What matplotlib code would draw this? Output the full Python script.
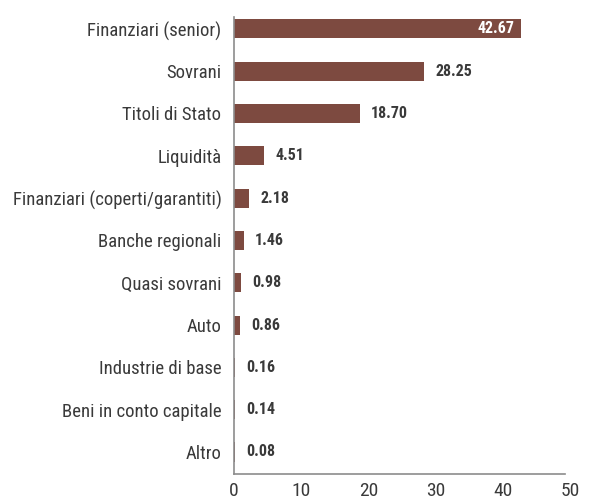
import matplotlib
matplotlib.use("Agg")
import matplotlib.pyplot as plt
from matplotlib import font_manager

# Data
categories = ["Finanziari (senior)", "Sovrani", "Titoli di Stato", "Liquidità",
              "Finanziari (coperti/garantiti)", "Banche regionali", "Quasi sovrani",
              "Auto", "Industrie di base", "Beni in conto capitale", "Altro"]
values = [42.67, 28.25, 18.70, 4.51, 2.18, 1.46, 0.98, 0.86, 0.16, 0.14, 0.08]
x_ticks = [0, 10, 20, 30, 40, 50]

BAR_COLOR = "#7d4a40"
TEXT_COLOR = "#3a3a3a"

# pick a condensed face if one is installed
fonts = font_manager.fontManager.ttflist
names = {f.name for f in fonts}
FONT, STRETCH = "DejaVu Sans", "condensed"
for cand in ["Roboto Condensed", "Open Sans Condensed", "Liberation Sans Narrow"]:
    if cand in names:
        FONT, STRETCH = cand, "normal"
        break
plt.rcParams["font.family"] = [FONT, "DejaVu Sans"]
plt.rcParams["font.stretch"] = STRETCH

fig = plt.figure(figsize=(5.9, 5.03), dpi=100)
ax = fig.add_axes([234 / 590, 1 - 474 / 503, (570 - 234) / 590, (474 - 17) / 503])

y = list(range(len(categories)))
ax.barh(y, values, height=0.45, color=BAR_COLOR)

for i, v in enumerate(values):
    if v > 40:
        ax.text(v - 0.9, i, f"{v:.2f}", ha="right", va="center", color="white",
                fontsize=11.5, fontweight="bold", fontstretch=STRETCH)
    else:
        ax.text(v + 1.7, i, f"{v:.2f}", ha="left", va="center", color=TEXT_COLOR,
                fontsize=11.5, fontweight="bold", fontstretch=STRETCH)

ax.set_yticks(y)
ax.set_yticklabels(categories, fontsize=13.5, color=TEXT_COLOR, fontstretch=STRETCH)
ax.set_xticks(x_ticks)
ax.set_xticklabels([str(t) for t in x_ticks], fontsize=14, color=TEXT_COLOR,
                   fontstretch=STRETCH)
ax.set_xlim(0, 50)
ax.set_ylim(10.52, -0.28)

ax.tick_params(axis="y", length=0, pad=9)
ax.tick_params(axis="x", length=0, pad=6)
for side in ["top", "right"]:
    ax.spines[side].set_visible(False)
for side in ["left", "bottom"]:
    ax.spines[side].set_color("#8c8c8c")
    ax.spines[side].set_linewidth(1.2)
ax.spines["bottom"].set_bounds(0, 49.2)

fig.savefig("out.png", dpi=100)
